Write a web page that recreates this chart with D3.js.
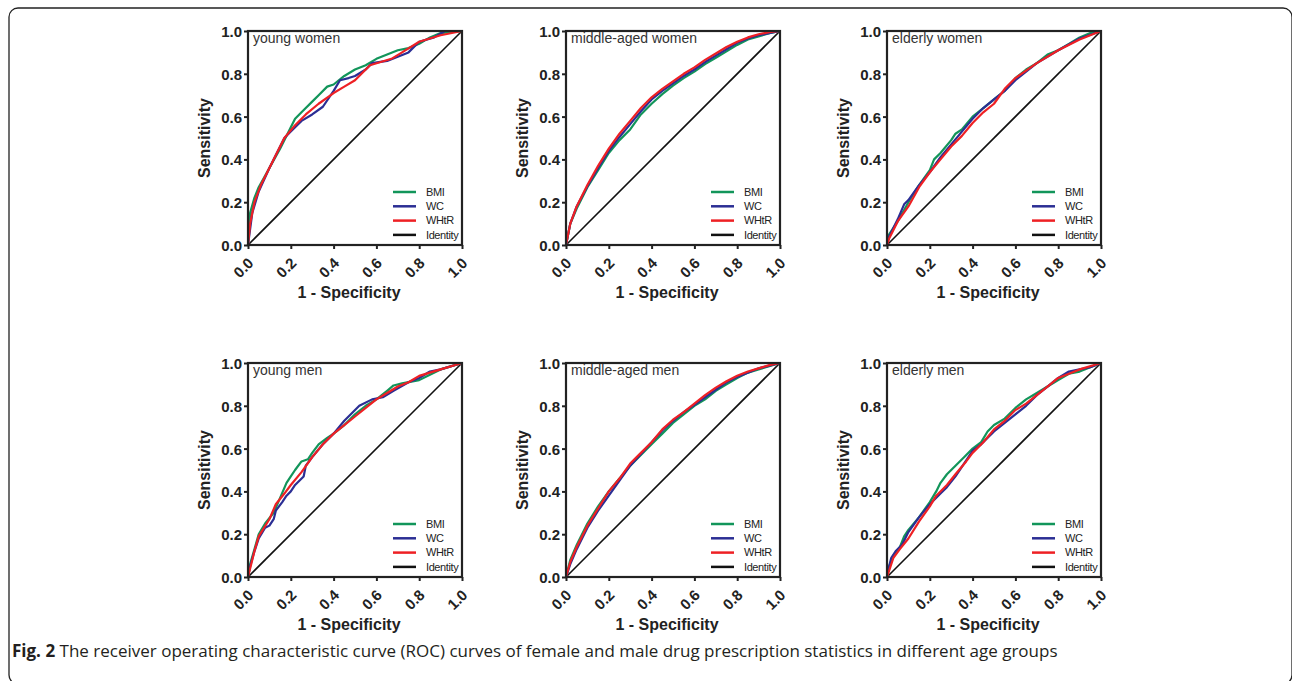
<!DOCTYPE html>
<html>
<head>
<meta charset="utf-8">
<script src="https://cdn.jsdelivr.net/npm/d3@7"></script>
<style>
  body { margin: 0; background: #fff; }
  svg { display: block; }
</style>
</head>
<body>
<script>
// ROC points: [1 - specificity, sensitivity]
const youngWomenBMI = [[0,0],[0.01,0.15],[0.03,0.22],[0.05,0.27],[0.1,0.36],[0.15,0.45],[0.2,0.55],[0.22,0.59],[0.25,0.62],[0.27,0.64],[0.3,0.67],[0.33,0.7],[0.37,0.74],[0.4,0.75],[0.45,0.79],[0.5,0.82],[0.55,0.84],[0.6,0.87],[0.65,0.89],[0.7,0.91],[0.75,0.92],[0.8,0.94],[0.85,0.97],[0.9,0.99],[1,1]];
const youngWomenWC = [[0,0],[0.02,0.15],[0.05,0.25],[0.1,0.36],[0.17,0.5],[0.2,0.53],[0.25,0.58],[0.3,0.61],[0.35,0.646],[0.4,0.72],[0.43,0.77],[0.47,0.78],[0.5,0.79],[0.55,0.82],[0.58,0.85],[0.65,0.86],[0.7,0.88],[0.75,0.9],[0.8,0.95],[0.87,0.97],[0.92,1],[1,1]];
const youngWomenWHtR = [[0,0],[0.01,0.1],[0.03,0.2],[0.06,0.28],[0.1,0.36],[0.17,0.5],[0.22,0.56],[0.27,0.61],[0.33,0.66],[0.4,0.71],[0.45,0.74],[0.5,0.77],[0.57,0.84],[0.62,0.855],[0.67,0.87],[0.72,0.9],[0.8,0.95],[0.9,0.98],[1,1]];

const middleWomenBMI = [[0,0],[0.02,0.1],[0.05,0.17],[0.1,0.27],[0.15,0.35],[0.2,0.43],[0.25,0.49],[0.3,0.54],[0.35,0.61],[0.4,0.66],[0.45,0.705],[0.5,0.745],[0.55,0.78],[0.6,0.81],[0.65,0.845],[0.7,0.875],[0.75,0.905],[0.8,0.935],[0.85,0.96],[0.9,0.975],[0.95,0.99],[1,1]];
const middleWomenWC = [[0,0],[0.02,0.1],[0.05,0.18],[0.1,0.275],[0.15,0.36],[0.2,0.44],[0.25,0.505],[0.3,0.565],[0.35,0.625],[0.4,0.68],[0.45,0.72],[0.5,0.755],[0.55,0.79],[0.6,0.82],[0.65,0.855],[0.7,0.885],[0.75,0.915],[0.8,0.945],[0.85,0.965],[0.9,0.98],[0.95,0.99],[1,1]];
const middleWomenWHtR = [[0,0],[0.02,0.1],[0.05,0.18],[0.1,0.28],[0.15,0.37],[0.2,0.45],[0.25,0.52],[0.3,0.58],[0.35,0.64],[0.4,0.69],[0.45,0.73],[0.5,0.765],[0.55,0.8],[0.6,0.83],[0.65,0.865],[0.7,0.895],[0.75,0.925],[0.8,0.95],[0.85,0.97],[0.9,0.985],[0.95,0.995],[1,1]];

const elderlyWomenBMI = [[0,0],[0.01,0.05],[0.05,0.11],[0.1,0.2],[0.15,0.28],[0.2,0.35],[0.22,0.4],[0.25,0.43],[0.3,0.49],[0.32,0.52],[0.35,0.54],[0.4,0.6],[0.45,0.64],[0.5,0.68],[0.55,0.72],[0.6,0.78],[0.65,0.82],[0.7,0.85],[0.75,0.89],[0.8,0.91],[0.85,0.94],[0.9,0.97],[0.95,0.99],[1,1]];
const elderlyWomenWC = [[0,0],[0.01,0.04],[0.05,0.12],[0.08,0.19],[0.1,0.21],[0.15,0.28],[0.2,0.34],[0.25,0.41],[0.3,0.47],[0.35,0.53],[0.4,0.59],[0.45,0.64],[0.5,0.68],[0.55,0.72],[0.6,0.77],[0.65,0.81],[0.7,0.85],[0.8,0.91],[0.9,0.965],[1,1]];
const elderlyWomenWHtR = [[0,0],[0.01,0.03],[0.05,0.11],[0.1,0.18],[0.15,0.27],[0.2,0.34],[0.25,0.4],[0.3,0.46],[0.35,0.51],[0.4,0.57],[0.45,0.62],[0.5,0.66],[0.55,0.73],[0.6,0.78],[0.65,0.815],[0.7,0.85],[0.8,0.91],[0.9,0.96],[1,1]];

const youngMenBMI = [[0,0],[0.01,0.06],[0.03,0.13],[0.05,0.2],[0.08,0.25],[0.12,0.3],[0.15,0.37],[0.18,0.44],[0.2,0.47],[0.22,0.5],[0.25,0.54],[0.28,0.55],[0.3,0.58],[0.33,0.62],[0.37,0.65],[0.4,0.67],[0.45,0.71],[0.5,0.76],[0.55,0.8],[0.6,0.83],[0.65,0.87],[0.68,0.895],[0.72,0.905],[0.8,0.92],[0.85,0.945],[0.9,0.97],[1,1]];
const youngMenWC = [[0,0],[0.01,0.05],[0.03,0.12],[0.05,0.18],[0.08,0.23],[0.1,0.24],[0.12,0.27],[0.13,0.31],[0.16,0.35],[0.18,0.38],[0.2,0.4],[0.22,0.43],[0.26,0.47],[0.27,0.52],[0.3,0.56],[0.35,0.62],[0.4,0.67],[0.45,0.73],[0.52,0.8],[0.58,0.83],[0.63,0.84],[0.68,0.87],[0.75,0.91],[0.8,0.93],[0.85,0.96],[0.9,0.97],[1,1]];
const youngMenWHtR = [[0,0],[0.01,0.04],[0.03,0.12],[0.05,0.19],[0.1,0.27],[0.13,0.34],[0.17,0.39],[0.2,0.43],[0.25,0.49],[0.3,0.56],[0.35,0.62],[0.4,0.67],[0.45,0.71],[0.5,0.75],[0.55,0.79],[0.6,0.83],[0.65,0.86],[0.7,0.89],[0.75,0.91],[0.8,0.94],[0.9,0.97],[1,1]];

const middleMenBMI = [[0,0],[0.02,0.08],[0.05,0.15],[0.1,0.25],[0.15,0.33],[0.2,0.4],[0.25,0.46],[0.3,0.52],[0.35,0.57],[0.4,0.62],[0.45,0.67],[0.5,0.72],[0.55,0.76],[0.6,0.8],[0.65,0.83],[0.7,0.87],[0.75,0.9],[0.8,0.93],[0.85,0.955],[0.9,0.97],[1,1]];
const middleMenWC = [[0,0],[0.02,0.06],[0.05,0.13],[0.1,0.23],[0.15,0.31],[0.2,0.38],[0.25,0.45],[0.3,0.52],[0.35,0.575],[0.4,0.63],[0.45,0.685],[0.5,0.73],[0.55,0.77],[0.6,0.805],[0.65,0.84],[0.7,0.875],[0.75,0.91],[0.8,0.935],[0.85,0.955],[0.9,0.975],[1,1]];
const middleMenWHtR = [[0,0],[0.02,0.07],[0.05,0.14],[0.1,0.24],[0.15,0.32],[0.2,0.4],[0.25,0.46],[0.3,0.53],[0.35,0.58],[0.4,0.63],[0.45,0.69],[0.5,0.735],[0.55,0.77],[0.6,0.81],[0.65,0.85],[0.7,0.885],[0.75,0.915],[0.8,0.94],[0.85,0.96],[0.9,0.975],[0.95,0.99],[1,1]];

const elderlyMenBMI = [[0,0],[0.01,0.05],[0.03,0.1],[0.06,0.14],[0.08,0.19],[0.1,0.22],[0.15,0.28],[0.2,0.35],[0.23,0.4],[0.25,0.44],[0.28,0.48],[0.32,0.52],[0.36,0.56],[0.4,0.6],[0.44,0.63],[0.47,0.68],[0.5,0.71],[0.55,0.74],[0.6,0.79],[0.65,0.83],[0.7,0.86],[0.75,0.89],[0.8,0.92],[0.85,0.95],[0.9,0.96],[0.95,0.98],[1,1]];
const elderlyMenWC = [[0,0],[0.01,0.05],[0.02,0.09],[0.04,0.12],[0.07,0.15],[0.1,0.21],[0.15,0.28],[0.2,0.34],[0.25,0.39],[0.28,0.42],[0.32,0.47],[0.36,0.53],[0.4,0.59],[0.44,0.62],[0.5,0.68],[0.55,0.72],[0.6,0.76],[0.65,0.8],[0.7,0.85],[0.75,0.89],[0.8,0.93],[0.85,0.96],[0.9,0.97],[0.95,0.98],[1,1]];
const elderlyMenWHtR = [[0,0],[0.01,0.03],[0.03,0.09],[0.06,0.13],[0.1,0.18],[0.15,0.26],[0.2,0.33],[0.23,0.38],[0.28,0.43],[0.32,0.48],[0.37,0.54],[0.4,0.58],[0.45,0.63],[0.5,0.69],[0.55,0.73],[0.6,0.78],[0.65,0.81],[0.7,0.85],[0.75,0.89],[0.8,0.93],[0.85,0.95],[0.9,0.97],[1,1]];

const panelTitles = ["young women", "middle-aged women", "elderly women", "young men", "middle-aged men", "elderly men"];
const seriesNames = ["BMI", "WC", "WHtR", "Identity"];
const seriesColors = ["#12955a", "#2b2e94", "#ee2024", "#111111"];
const tickValues = [0, 0.2, 0.4, 0.6, 0.8, 1.0];
const captionBold = "Fig. 2";
const captionText = " The receiver operating characteristic curve (ROC) curves of female and male drug prescription statistics in different age groups";

const panelData = [
  [youngWomenBMI, youngWomenWC, youngWomenWHtR],
  [middleWomenBMI, middleWomenWC, middleWomenWHtR],
  [elderlyWomenBMI, elderlyWomenWC, elderlyWomenWHtR],
  [youngMenBMI, youngMenWC, youngMenWHtR],
  [middleMenBMI, middleMenWC, middleMenWHtR],
  [elderlyMenBMI, elderlyMenWC, elderlyMenWHtR]
];

const W = 1292, H = 681;
const svg = d3.select("body").append("svg")
  .attr("width", W)
  .attr("height", H);

// rounded figure frame (bottom edge falls off the page)
svg.append("rect")
  .attr("x", 9).attr("y", 8)
  .attr("width", 1283).attr("height", 676)
  .attr("rx", 9)
  .attr("fill", "none")
  .attr("stroke", "#222")
  .attr("stroke-width", 1.3);

const plotSize = 214;
const colX = [248, 566, 887];
const rowY = [31, 363];

panelData.forEach((curves, i) => {
  const left = colX[i % 3];
  const top = rowY[Math.floor(i / 3)];
  const x = d3.scaleLinear().domain([0, 1]).range([0, plotSize]);
  const y = d3.scaleLinear().domain([0, 1]).range([plotSize, 0]);

  const g = svg.append("g").attr("transform", `translate(${left},${top})`);

  // identity line
  g.append("line")
    .attr("x1", x(0)).attr("y1", y(0))
    .attr("x2", x(1)).attr("y2", y(1))
    .attr("stroke", seriesColors[3])
    .attr("stroke-width", 1.6);

  const line = d3.line().x(d => x(d[0])).y(d => y(d[1]));
  curves.forEach((pts, k) => {
    g.append("path")
      .attr("d", line(pts))
      .attr("fill", "none")
      .attr("stroke", seriesColors[k])
      .attr("stroke-width", 2.2)
      .attr("stroke-linejoin", "round");
  });

  // axes
  const fmt = d3.format(".1f");
  const yAxis = g.append("g")
    .call(d3.axisLeft(y).tickValues(tickValues).tickFormat(fmt).tickSize(4).tickPadding(2));
  const xAxis = g.append("g")
    .attr("transform", `translate(0,${plotSize})`)
    .call(d3.axisBottom(x).tickValues(tickValues).tickFormat(fmt).tickSize(4).tickPadding(2));

  [xAxis, yAxis].forEach(a => {
    a.select(".domain").remove();
    a.selectAll(".tick line").attr("stroke", "#222").attr("stroke-width", 2);
    a.selectAll("text")
      .attr("fill", "#222")
      .style("font", "bold 15px 'Liberation Sans', Arial, sans-serif");
  });
  xAxis.selectAll("text")
    .attr("text-anchor", "end")
    .attr("dy", null)
    .attr("y", 0)
    .attr("transform", "translate(6,19) rotate(-45)");
  yAxis.selectAll("text").attr("dy", "0.36em");

  // box frame
  g.append("rect")
    .attr("width", plotSize).attr("height", plotSize)
    .attr("fill", "none")
    .attr("stroke", "#222")
    .attr("stroke-width", 2.2);

  // panel title
  g.append("text")
    .attr("x", 5).attr("y", 12)
    .attr("fill", "#333")
    .style("font", "14px 'Liberation Sans', Arial, sans-serif")
    .text(panelTitles[i]);

  // legend
  const leg = g.append("g").attr("transform", `translate(${plotSize - 69},${plotSize - 53})`);
  seriesNames.forEach((name, k) => {
    const ly = k * 14.3;
    leg.append("line")
      .attr("x1", 0).attr("x2", 23)
      .attr("y1", ly).attr("y2", ly)
      .attr("stroke", seriesColors[k])
      .attr("stroke-width", 2.5);
    leg.append("text")
      .attr("x", 33).attr("y", ly)
      .attr("dy", "0.35em")
      .attr("fill", "#222")
      .style("font", "11px 'Liberation Sans', Arial, sans-serif")
      .style("letter-spacing", "-0.4px")
      .text(name);
  });

  // axis titles
  g.append("text")
    .attr("transform", `translate(-38,${plotSize / 2}) rotate(-90)`)
    .attr("text-anchor", "middle")
    .attr("fill", "#222")
    .style("font", "bold 16px 'Liberation Sans', Arial, sans-serif")
    .text("Sensitivity");
  g.append("text")
    .attr("x", plotSize / 2 - 6).attr("y", plotSize + 53)
    .attr("text-anchor", "middle")
    .attr("fill", "#222")
    .style("font", "bold 16px 'Liberation Sans', Arial, sans-serif")
    .text("1 - Specificity");
});

// caption
const cap = svg.append("text")
  .attr("x", 12).attr("y", 657)
  .attr("fill", "#231f20")
  .style("font", "17px 'Open Sans', 'Noto Sans', sans-serif");
cap.append("tspan").style("font-weight", "bold").text(captionBold);
cap.append("tspan").text(captionText);
</script>
</body>
</html>
